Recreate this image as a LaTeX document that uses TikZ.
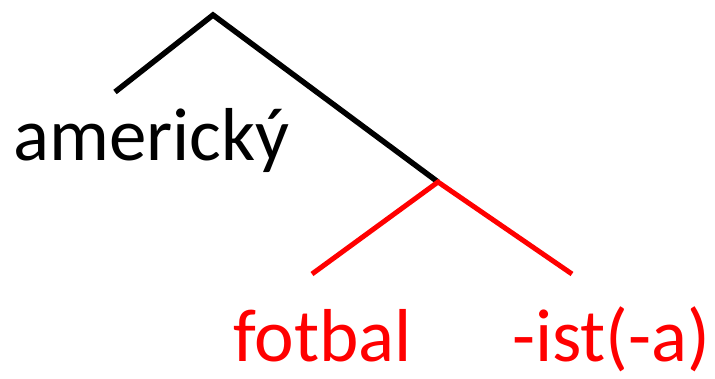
\documentclass[tikz,border=0pt]{standalone}
\usepackage{fontspec}
\setmainfont{Carlito}
\usepackage{xcolor}
\usepackage{tikz}
\usetikzlibrary{positioning}

\tikzset{
  branch/.style={line width=5.5pt, black},
  redbranch/.style={line width=5pt, red},
  word/.style={anchor=base west, inner sep=0pt, font=\fontsize{75}{82}\selectfont},
}

\begin{document}
\begin{tikzpicture}[x=1pt, y=-1pt]
    \useasboundingbox (0,0) rectangle (715,378);
    % Tree points
    \coordinate (root) at (213,15);
    \coordinate (adj) at (115,92);
    \coordinate (noun) at (438,182);
    \coordinate (stem) at (312,274);
    \coordinate (suf) at (572,274);

    % Branches
    \draw[branch] (adj) -- (root) -- (noun);
    \draw[redbranch] (stem) -- (noun) -- (suf);

    % Words
    \node[word] (americky) at (13,160) {americký};
    \node[word, red] (fotbal) at (233,361) {fotbal};
    \node[word, red] (ista) at (512,361) {-ist(-a)};
  \end{tikzpicture}
\end{document}
